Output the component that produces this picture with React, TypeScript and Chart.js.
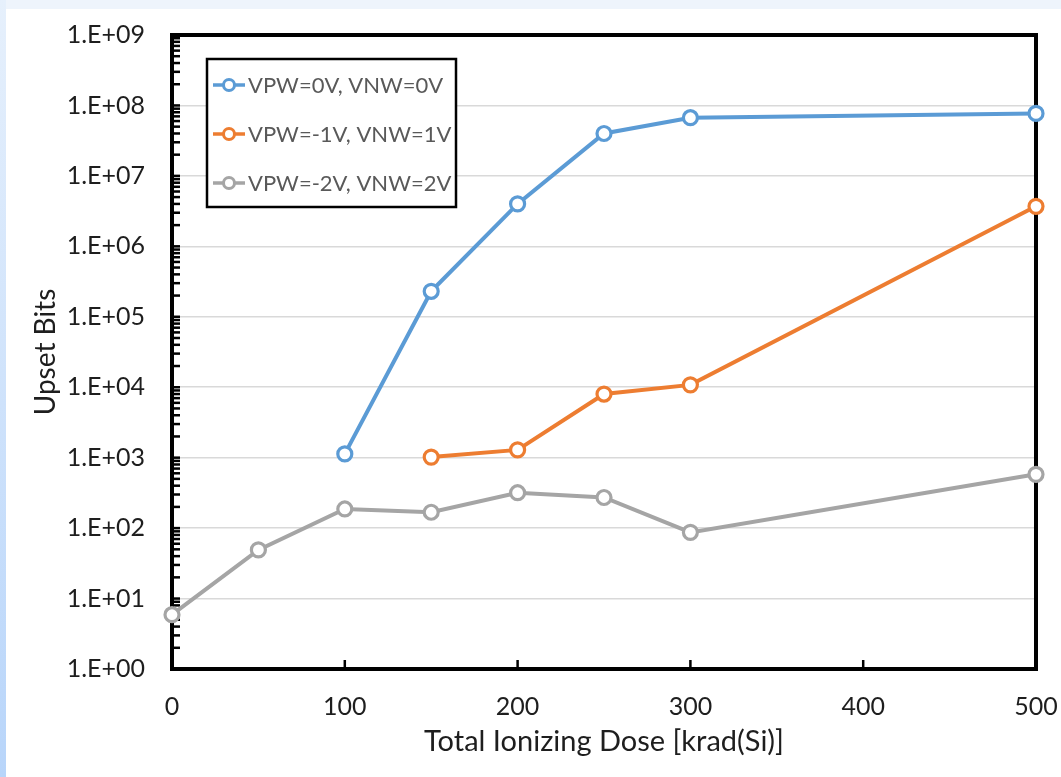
import React, { useEffect, useRef } from 'react';
import { Chart, registerables } from 'chart.js';

Chart.register(...registerables);

// ---- data ----
const seriesNames = ['VPW=0V, VNW=0V', 'VPW=-1V, VNW=1V', 'VPW=-2V, VNW=2V'];
const seriesColors = ['#5B9BD5', '#ED7D31', '#A5A5A5'];

const dose0V = [100, 150, 200, 250, 300, 500];
const bits0V = [1130, 2.3e5, 4.0e6, 4.0e7, 6.7e7, 7.7e7];

const dose1V = [150, 200, 250, 300, 500];
const bits1V = [1020, 1290, 8000, 10800, 3.7e6];

const dose2V = [0, 50, 100, 150, 200, 250, 300, 500];
const bits2V = [5.9, 49, 187, 168, 318, 272, 87, 580];

const xTickValues = [0, 100, 200, 300, 400, 500];
const xTickLabels = ['0', '100', '200', '300', '400', '500'];

const yDecades = [1, 1e1, 1e2, 1e3, 1e4, 1e5, 1e6, 1e7, 1e8, 1e9];
const yTickLabels = ['1.E+00', '1.E+01', '1.E+02', '1.E+03', '1.E+04', '1.E+05', '1.E+06', '1.E+07', '1.E+08', '1.E+09'];
const yMinorMultipliers = [2, 3, 4, 5, 6, 7, 8, 9];

const xTitle = 'Total Ionizing Dose [krad(Si)]';
const yTitle = 'Upset Bits';

const TEXT = '#1e1e1e';
const FONT = 'Lato';

const bgPlugin = {
  id: 'bgPlugin',
  beforeDraw(chart: any) {
    const { ctx, width, height } = chart;
    ctx.save();
    ctx.fillStyle = '#ffffff';
    ctx.fillRect(0, 0, width, height);
    ctx.fillStyle = '#eef4fc';
    ctx.fillRect(0, 0, width, 9);
    const g = ctx.createLinearGradient(0, 0, 0, height);
    g.addColorStop(0, '#e6f0fc');
    g.addColorStop(1, '#b8d5fa');
    ctx.fillStyle = g;
    ctx.fillRect(0, 0, 6, height);
    ctx.restore();
  },
};

const framePlugin = {
  id: 'framePlugin',
  beforeDatasetsDraw(chart: any) {
    const { ctx, chartArea, scales } = chart;
    const { left, right, top, bottom } = chartArea;
    ctx.save();
    ctx.strokeStyle = '#000';
    ctx.lineWidth = 2.5;
    for (const t of scales.y.ticks) {
      const p = scales.y.getPixelForValue(t.value);
      ctx.beginPath();
      ctx.moveTo(left, p);
      ctx.lineTo(left + 8, p);
      ctx.stroke();
    }
    for (const t of scales.x.ticks) {
      const p = scales.x.getPixelForValue(t.value);
      ctx.beginPath();
      ctx.moveTo(p, bottom);
      ctx.lineTo(p, bottom - 9);
      ctx.stroke();
    }
    ctx.lineWidth = 4;
    ctx.strokeRect(left, top, right - left, bottom - top);
    ctx.restore();
  },
};

const legendPlugin = {
  id: 'boxLegend',
  afterDraw(chart: any) {
    const { ctx, chartArea } = chart;
    const bx = chartArea.left + 35;
    const by = chartArea.top + 24;
    const bw = 249;
    const bh = 148;
    ctx.save();
    ctx.fillStyle = '#ffffff';
    ctx.fillRect(bx, by, bw, bh);
    ctx.strokeStyle = '#000';
    ctx.lineWidth = 2.5;
    ctx.strokeRect(bx, by, bw, bh);
    ctx.font = `22px ${FONT}`;
    ctx.textBaseline = 'middle';
    ctx.textAlign = 'left';
    seriesNames.forEach((name, i) => {
      const y = by + 26 + i * 49;
      const c = seriesColors[i];
      ctx.strokeStyle = c;
      ctx.lineWidth = 3.5;
      ctx.beginPath();
      ctx.moveTo(bx + 6, y);
      ctx.lineTo(bx + 38, y);
      ctx.stroke();
      ctx.beginPath();
      ctx.arc(bx + 22, y, 5.5, 0, Math.PI * 2);
      ctx.fillStyle = '#fff';
      ctx.fill();
      ctx.lineWidth = 3;
      ctx.stroke();
      ctx.fillStyle = '#595959';
      ctx.fillText(name, bx + 41, y + 1);
    });
    ctx.restore();
  },
};

function makeSeries(i: number, xs: number[], ys: number[]) {
  return {
    label: seriesNames[i],
    data: xs.map((x, k) => ({ x, y: ys[k] })),
    borderColor: seriesColors[i],
    backgroundColor: '#ffffff',
    borderWidth: 4,
    pointRadius: 7,
    pointHoverRadius: 7,
    pointBorderWidth: 3.2,
    pointBackgroundColor: '#ffffff',
    pointBorderColor: seriesColors[i],
    tension: 0,
    clip: false as any,
  };
}

function zeroPadding(s: any) {
  s.paddingLeft = 0;
  s.paddingRight = 0;
  s.paddingTop = 0;
  s.paddingBottom = 0;
}

export default function App() {
  const ref = useRef<HTMLCanvasElement>(null);
  useEffect(() => {
    document.body.style.margin = '0';
    Chart.defaults.font.family = FONT;
    const canvas = ref.current!;
    const isDecade = (v: number) => yDecades.indexOf(v) >= 0;
    const chart = new Chart(canvas, {
      type: 'line',
      data: {
        datasets: [
          makeSeries(0, dose0V, bits0V),
          makeSeries(1, dose1V, bits1V),
          makeSeries(2, dose2V, bits2V),
        ] as any,
      },
      options: {
        animation: false,
        responsive: false,
        devicePixelRatio: 1,
        layout: { padding: { top: 35, right: 25, left: 0, bottom: 0 } },
        plugins: { legend: { display: false }, tooltip: { enabled: false } },
        scales: {
          x: {
            type: 'linear',
            min: 0,
            max: 500,
            afterBuildTicks: (s: any) => {
              s.ticks = xTickValues.map((v) => ({ value: v }));
            },
            afterFit: (s: any) => {
              s.height = 108;
              zeroPadding(s);
            },
            grid: { display: false, drawTicks: false },
            border: { display: false },
            ticks: {
              autoSkip: false,
              maxRotation: 0,
              padding: 23,
              color: TEXT,
              font: { size: 25, family: FONT },
              callback: (v: any) => {
                const i = xTickValues.indexOf(Number(v));
                return i >= 0 ? xTickLabels[i] : '';
              },
            },
            title: {
              display: true,
              text: xTitle,
              color: TEXT,
              font: { size: 29, family: FONT },
              padding: { top: 0, bottom: 18 },
            },
          },
          y: {
            type: 'logarithmic',
            min: 1,
            max: 1e9,
            afterBuildTicks: (s: any) => {
              const t: any[] = [];
              for (let e = 0; e < yDecades.length; e++) {
                t.push({ value: yDecades[e], major: true });
                if (e < yDecades.length - 1) {
                  for (const m of yMinorMultipliers) t.push({ value: m * yDecades[e], major: false });
                }
              }
              s.ticks = t;
            },
            afterFit: (s: any) => {
              s.width = 172;
              zeroPadding(s);
            },
            grid: {
              drawTicks: false,
              lineWidth: 1.5,
              color: (ctx: any) => (ctx.tick && isDecade(ctx.tick.value) ? '#d9d9d9' : 'rgba(0,0,0,0)'),
            },
            border: { display: false },
            ticks: {
              autoSkip: false,
              padding: 27,
              color: TEXT,
              font: { size: 25, family: FONT },
              callback: (v: any) => {
                const i = yDecades.indexOf(Number(v));
                return i >= 0 ? yTickLabels[i] : '';
              },
            },
            title: {
              display: true,
              text: yTitle,
              color: TEXT,
              font: { size: 28, family: FONT },
              padding: { top: 29, bottom: 0 },
            },
          },
        },
      } as any,
      plugins: [bgPlugin, framePlugin, legendPlugin],
    });
    return () => chart.destroy();
  }, []);
  return <canvas ref={ref} width={1061} height={777} style={{ display: 'block' }} />;
}
